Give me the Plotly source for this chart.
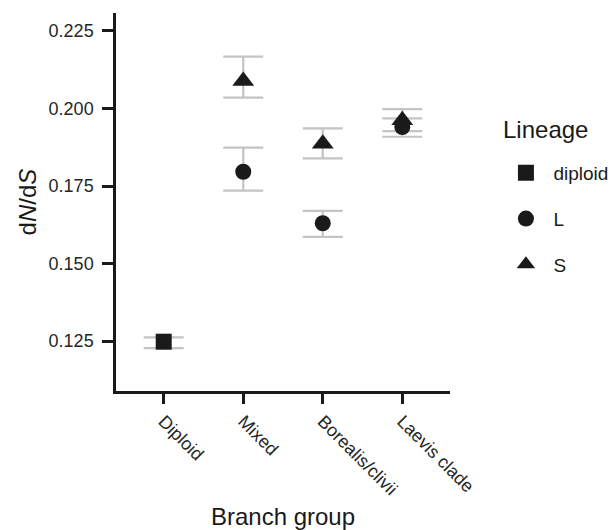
import plotly.graph_objects as go

categories = ["Diploid", "Mixed", "Borealis/clivii", "Laevis clade"]
y_ticks = [0.125, 0.150, 0.175, 0.200, 0.225]

diploid_x = ["Diploid"]
diploid_y = [0.1248]
diploid_lo = [0.1227]
diploid_hi = [0.1262]

L_x = ["Mixed", "Borealis/clivii", "Laevis clade"]
L_y = [0.1796, 0.1630, 0.1940]
L_lo = [0.1735, 0.1586, 0.1927]
L_hi = [0.1874, 0.1670, 0.1968]

S_x = ["Mixed", "Borealis/clivii", "Laevis clade"]
S_y = [0.2089, 0.1886, 0.1962]
S_lo = [0.2035, 0.1839, 0.1909]
S_hi = [0.2167, 0.1936, 0.1998]

FONT = "Liberation Sans, Arial, sans-serif"
ERR_COLOR = "#c4c4c4"
MK_COLOR = "#1a1a1a"
TXT = "#1a1a1a"
TICK_TXT = "#262626"

series = [
    ("diploid", diploid_x, diploid_y, diploid_lo, diploid_hi, "square", 16),
    ("L", L_x, L_y, L_lo, L_hi, "circle", 16),
    ("S", S_x, S_y, S_lo, S_hi, "triangle-up", 19),
]

fig = go.Figure()
# error bars first (under markers)
for name, xs, ys, lo, hi, sym, sz in series:
    fig.add_trace(go.Scatter(
        x=xs, y=ys, mode="markers", showlegend=False,
        marker=dict(size=0.1, color="rgba(0,0,0,0)"),
        error_y=dict(type="data", symmetric=False,
                     array=[h - v for h, v in zip(hi, ys)],
                     arrayminus=[v - l for l, v in zip(lo, ys)],
                     color=ERR_COLOR, thickness=2.2, width=20),
        hoverinfo="skip",
    ))
for name, xs, ys, lo, hi, sym, sz in series:
    fig.add_trace(go.Scatter(
        x=xs, y=ys, mode="markers", name=name, legendgroup=name,
        marker=dict(symbol=sym, size=sz, color=MK_COLOR, line=dict(width=0)),
    ))

fig.update_layout(
    width=613, height=530,
    margin=dict(l=116, r=163, t=13, b=139, autoexpand=False),
    paper_bgcolor="white", plot_bgcolor="white",
    font=dict(family=FONT, color=TXT),
    legend=dict(
        font=dict(size=19, color=TXT),
        x=1.145, xanchor="left", y=0.627, yanchor="top",
        tracegroupgap=18, itemsizing="trace", itemwidth=45,
    ),
    annotations=[dict(
        text="Lineage", xref="paper", yref="paper", x=1.152, y=0.6905,
        xanchor="left", yanchor="middle", showarrow=False,
        font=dict(size=24, color=TXT),
    )],
    xaxis=dict(
        type="category", categoryorder="array", categoryarray=categories,
        range=[-0.6, 3.6], showline=True, linecolor="#1a1a1a", linewidth=2.5,
        ticks="outside", ticklen=10, tickwidth=2.5, tickcolor="#1a1a1a",
        tickangle=45, tickfont=dict(size=18, color=TICK_TXT),
        showgrid=False, zeroline=False, automargin=False,
        title=dict(text="Branch group", font=dict(size=24, color=TXT), standoff=13),
    ),
    yaxis=dict(
        range=[0.1089, 0.2308], showline=True, linecolor="#1a1a1a", linewidth=2.5,
        ticks="outside", ticklen=11, tickwidth=2.5, tickcolor="#1a1a1a",
        ticklabelstandoff=5,
        tickvals=y_ticks, tickformat=".3f", tickfont=dict(size=18, color=TICK_TXT),
        showgrid=False, zeroline=False, automargin=False,
        title=dict(text="d<i>N</i>/d<i>S</i>", font=dict(size=24, color=TXT), standoff=6),
    ),
)

fig.write_html("out.html", config={"displayModeBar": False},
               post_script="document.body.style.margin='0';")
